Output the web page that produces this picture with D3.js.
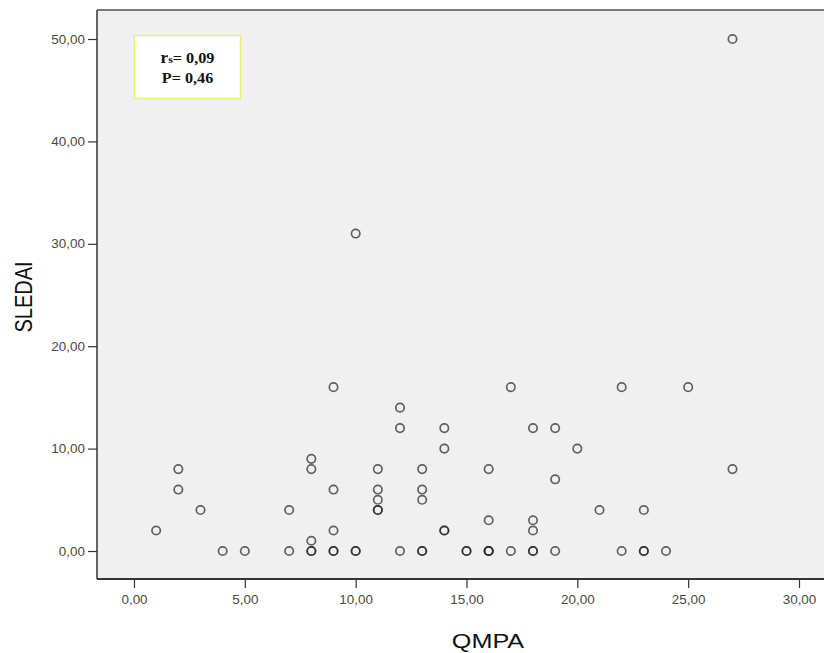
<!DOCTYPE html>
<html>
<head>
<meta charset="utf-8">
<script src="https://cdn.jsdelivr.net/npm/d3@7/dist/d3.min.js"></script>
<style>
  html, body { margin: 0; padding: 0; background: #ffffff; }
  svg { display: block; }
</style>
</head>
<body>
<svg id="chart" width="824" height="653"></svg>
<script>
// ---- data ----
const qmpa   = [1, 2, 2, 3, 4, 5, 7, 7, 8, 8, 8, 8, 8, 9, 9, 9, 9, 9, 10, 10, 10,
                11, 11, 11, 11, 11, 12, 12, 12, 13, 13, 13, 13, 13, 14, 14, 14, 14,
                15, 15, 16, 16, 16, 16, 16, 17, 17, 18, 18, 18, 18, 18, 19, 19, 19,
                20, 21, 22, 22, 23, 23, 23, 24, 25, 27, 27];
const sledai = [2, 8, 6, 4, 0, 0, 4, 0, 9, 8, 1, 0, 0, 16, 6, 2, 0, 0, 31, 0, 0,
                8, 6, 5, 4, 4, 14, 12, 0, 8, 6, 5, 0, 0, 12, 10, 2, 2,
                0, 0, 8, 3, 0, 0, 0, 16, 0, 12, 3, 2, 0, 0, 12, 7, 0,
                10, 4, 16, 0, 4, 0, 0, 0, 16, 50, 8];
const xTicks = [0, 5, 10, 15, 20, 25, 30];
const yTicks = [0, 10, 20, 30, 40, 50];
const xTitle = "QMPA";
const yTitle = "SLEDAI";
const statR = "0,09";
const statP = "0,46";

const points = qmpa.map((q, i) => ({ x: q, y: sledai[i] }));
const fmt = v => v.toFixed(2).replace(".", ",");

// ---- layout ----
const svg = d3.select("#chart");
const plotL = 97, plotT = 10, plotB = 579, plotR = 880;

const x = d3.scaleLinear().domain([0, 30]).range([134, 799]);
const y = d3.scaleLinear().domain([0, 50]).range([551, 39]);

// plot background
svg.append("rect")
  .attr("x", plotL).attr("y", plotT)
  .attr("width", plotR - plotL).attr("height", plotB - plotT)
  .attr("fill", "#f0f0f0");

// frame lines
svg.append("line").attr("x1", plotL).attr("x2", plotR).attr("y1", plotT).attr("y2", plotT)
  .attr("stroke", "#7a7a7a").attr("stroke-width", 2);
svg.append("line").attr("x1", plotL).attr("x2", plotL).attr("y1", plotT).attr("y2", plotB)
  .attr("stroke", "#333").attr("stroke-width", 1.5);
svg.append("line").attr("x1", plotL).attr("x2", plotR).attr("y1", plotB).attr("y2", plotB)
  .attr("stroke", "#333").attr("stroke-width", 1.8);

// y axis
const yAxis = d3.axisLeft(y).tickValues(yTicks).tickSize(9).tickPadding(3).tickFormat(fmt);
const gy = svg.append("g").attr("transform", `translate(${plotL},0)`).call(yAxis);
gy.select(".domain").remove();
gy.selectAll(".tick line").attr("stroke", "#333").attr("stroke-width", 1.2);
gy.selectAll(".tick text")
  .attr("x", null).attr("dy", null)
  .attr("text-anchor", "end")
  .attr("font-family", "Arial, 'Liberation Sans', sans-serif")
  .attr("font-size", 12)
  .attr("fill", "#4a4a40")
  .attr("transform", "translate(-12,4) scale(1.12,1)");

// x axis
const xAxis = d3.axisBottom(x).tickValues(xTicks).tickSize(9).tickPadding(3).tickFormat(fmt);
const gx = svg.append("g").attr("transform", `translate(0,${plotB})`).call(xAxis);
gx.select(".domain").remove();
gx.selectAll(".tick line").attr("stroke", "#333").attr("stroke-width", 1.2);
gx.selectAll(".tick text")
  .attr("y", null).attr("dy", null)
  .attr("text-anchor", "middle")
  .attr("font-family", "Arial, 'Liberation Sans', sans-serif")
  .attr("font-size", 12)
  .attr("fill", "#4a4a40")
  .attr("transform", "translate(0,25) scale(1.12,1)");

// points
svg.append("g").selectAll("circle")
  .data(points)
  .join("circle")
  .attr("cx", d => x(d.x))
  .attr("cy", d => y(d.y))
  .attr("r", 4.2)
  .attr("fill", "none")
  .attr("stroke", "#222")
  .attr("stroke-opacity", 0.7)
  .attr("stroke-width", 1.7);

// axis titles
svg.append("text")
  .attr("transform", "translate(488,648) scale(1.2,1)")
  .attr("text-anchor", "middle")
  .attr("font-family", "Arial, 'Liberation Sans', sans-serif")
  .attr("font-size", 21)
  .attr("fill", "#111")
  .text(xTitle);

svg.append("text")
  .attr("transform", "translate(32,297) rotate(-90) scale(1,1.2)")
  .attr("text-anchor", "middle")
  .attr("font-family", "Arial, 'Liberation Sans', sans-serif")
  .attr("font-size", 20)
  .attr("fill", "#111")
  .text(yTitle);

// stats box
svg.append("rect")
  .attr("x", 134.5).attr("y", 35.5).attr("width", 106).attr("height", 63)
  .attr("fill", "#ffffff").attr("stroke", "#f3ee6a").attr("stroke-width", 1.5);

const t1 = svg.append("text")
  .attr("transform", "translate(187.5,63) scale(1.08,1)")
  .attr("text-anchor", "middle")
  .attr("font-family", "'Liberation Serif', 'Times New Roman', serif")
  .attr("font-weight", "bold")
  .attr("font-size", 15).attr("fill", "#111");
t1.append("tspan").attr("font-size", 16).text("r");
t1.append("tspan").attr("font-size", 11).text("s");
t1.append("tspan").text("= " + statR);

svg.append("text")
  .attr("transform", "translate(187.5,83) scale(1.08,1)")
  .attr("text-anchor", "middle")
  .attr("font-family", "'Liberation Serif', 'Times New Roman', serif")
  .attr("font-weight", "bold")
  .attr("font-size", 15).attr("fill", "#111")
  .text("P= " + statP);
</script>
</body>
</html>
